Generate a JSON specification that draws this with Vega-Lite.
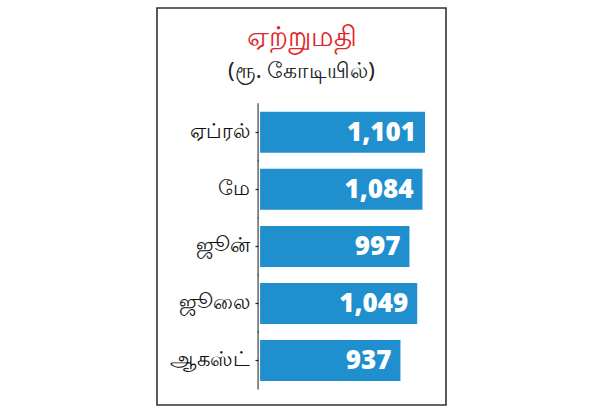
{
  "$schema": "https://vega.github.io/schema/vega-lite/v6.json",
  "autosize": "none",
  "padding": {"left": 157, "top": 8, "right": 154, "bottom": 8},
  "width": 289,
  "height": 397,
  "background": "white",
  "title": {
    "text": "ஏற்றுமதி",
    "subtitle": "(ரூ. கோடியில்)",
    "anchor": "middle",
    "frame": "group",
    "orient": "top",
    "offset": -74,
    "color": "#e0262b",
    "fontSize": 28,
    "fontWeight": "normal",
    "font": "Noto Sans",
    "subtitleColor": "#222222",
    "subtitleFontSize": 22,
    "subtitleFont": "Noto Sans",
    "subtitlePadding": 9
  },
  "config": {
    "view": {"stroke": "#333333", "strokeWidth": 1.6},
    "font": "Noto Sans"
  },
  "data": {
    "values": [
      {"month": "ஏப்ரல்", "value": 1101},
      {"month": "மே", "value": 1084},
      {"month": "ஜூன்", "value": 997},
      {"month": "ஜூலை", "value": 1049},
      {"month": "ஆகஸ்ட்", "value": 937}
    ]
  },
  "encoding": {
    "y": {
      "field": "month",
      "type": "nominal",
      "sort": null,
      "scale": {"paddingInner": 0, "paddingOuter": 0.98, "align": 0.857},
      "axis": {
        "title": null,
        "offset": -101,
        "domain": false,
        "grid": false,
        "ticks": true,
        "tickSize": 3,
        "tickColor": "#222222",
        "tickWidth": 1.2,
        "labelFontSize": 21,
        "labelColor": "#111111",
        "labelPadding": 6,
        "labelFont": "Noto Sans"
      }
    }
  },
  "layer": [
    {
      "mark": {"type": "bar", "color": "#1f8fcd", "size": 41},
      "encoding": {
        "x": {
          "field": "value",
          "type": "quantitative",
          "scale": {"domain": [-688, 1241], "nice": false, "zero": false},
          "axis": null
        }
      }
    },
    {
      "mark": {"type": "tick", "orient": "vertical", "color": "#222222", "thickness": 1.5, "size": 58, "xOffset": -2},
      "encoding": {
        "x": {"datum": 0, "type": "quantitative"}
      }
    },
    {
      "mark": {"type": "text", "align": "right", "baseline": "middle", "dx": -9, "dy": 1, "color": "white", "fontSize": 26, "fontWeight": 800, "font": "Open Sans"},
      "encoding": {
        "x": {"field": "value", "type": "quantitative"},
        "text": {"field": "value", "type": "quantitative", "format": ","}
      }
    }
  ]
}
